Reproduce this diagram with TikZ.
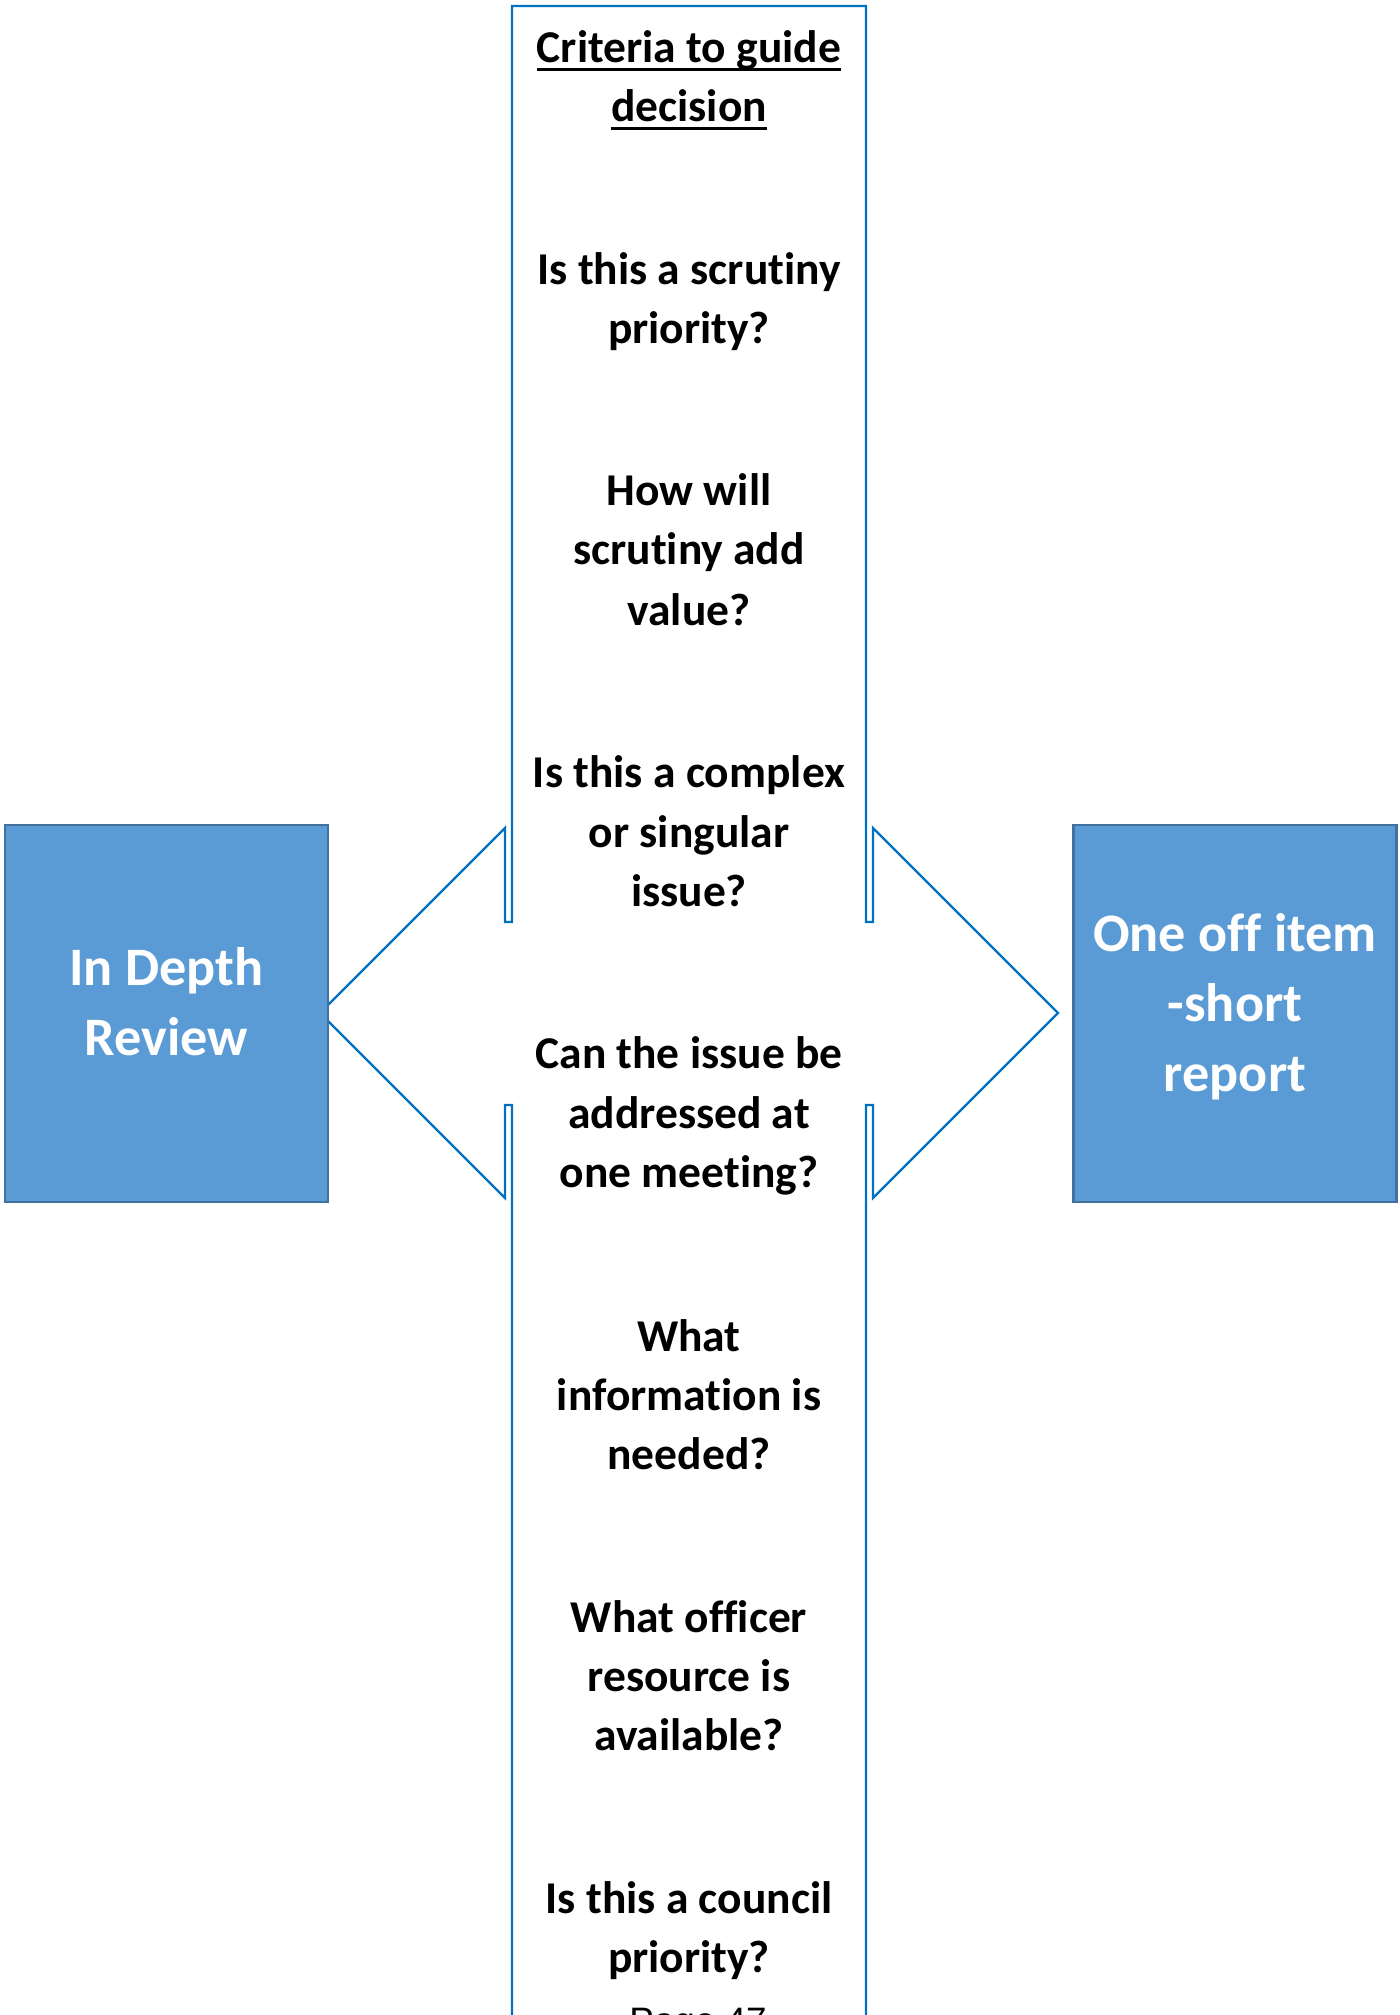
\documentclass[tikz,border=0pt]{standalone}
\usepackage{fontspec}
\setmainfont{Carlito}[Ligatures=NoCommon]
\newfontfamily\pagefont{Liberation Sans}
\definecolor{calloutblue}{RGB}{0,112,192}
\definecolor{boxfill}{RGB}{91,155,213}
\definecolor{boxedge}{RGB}{65,113,156}
\newcommand\ulbox[1]{\setbox0\hbox{#1}\rlap{\rule[-4pt]{\wd0}{1.25pt}}\box0}
\begin{document}
\begin{tikzpicture}[x=0.5pt,y=-0.5pt,
  crit/.style={font=\bfseries\fontsize{22.75}{28}\selectfont, anchor=base, inner sep=0pt, text=black},
  boxtxt/.style={font=\bfseries\fontsize{27.1}{33}\selectfont, anchor=base, inner sep=0pt, text=white},
  outcome/.style={draw=boxedge, line width=1.2pt, fill=boxfill, minimum width=161.5pt, minimum height=188.5pt, inner sep=0pt},
  callout/.style={draw=calloutblue, line width=1.2pt, line join=miter}]
\clip (0,0) rectangle (1399,2015);
\fill[white] (0,0) rectangle (1399,2015);
\draw[callout] (512,6) -- (866,6) -- (866,922) -- (873,922) -- (873,828) -- (1058,1013) -- (873,1198) -- (873,1105) -- (866,1105) -- (866,2040) -- (512,2040) -- (512,1105) -- (505,1105) -- (505,1198) -- (320,1013) -- (505,828) -- (505,922) -- (512,922) -- cycle;
\node[outcome] (indepth) at (166.5,1013.5) {};
\node[outcome] (oneoff) at (1235,1013.5) {};
\node[boxtxt] (id1) at (166.5,985) {In Depth};
\node[boxtxt] (id2) at (166.5,1055) {Review};
\node[boxtxt] (oo1) at (1235,951) {One off item};
\node[boxtxt] (oo2) at (1235,1021) {-short};
\node[boxtxt] (oo3) at (1235,1091) {report};
\foreach \y/\t [count=\i] in {
  62.5/{\ulbox{Criteria to guide}},
  121.6/{\ulbox{decision}},
  284.8/{Is this a scrutiny},
  343.9/{priority?},
  505.8/{How will},
  564.9/{scrutiny add},
  625.2/{value?},
  787.1/{Is this a complex},
  847.5/{or singular},
  906.6/{issue?},
  1068.5/{Can the issue be},
  1128.8/{addressed at},
  1187.9/{one meeting?},
  1351.1/{What},
  1410.2/{information is},
  1469.3/{needed?},
  1632.4/{What officer},
  1691.5/{resource is},
  1750.6/{available?},
  1913.8/{Is this a council},
  1972.9/{priority?}}
  {\node[crit] (q\i) at (689,\y) {\t};}
\node[font=\pagefont\fontsize{18.4}{22}\selectfont, anchor=base, inner sep=0pt] (page) at (698,2033) {Page 47};
\end{tikzpicture}
\end{document}
